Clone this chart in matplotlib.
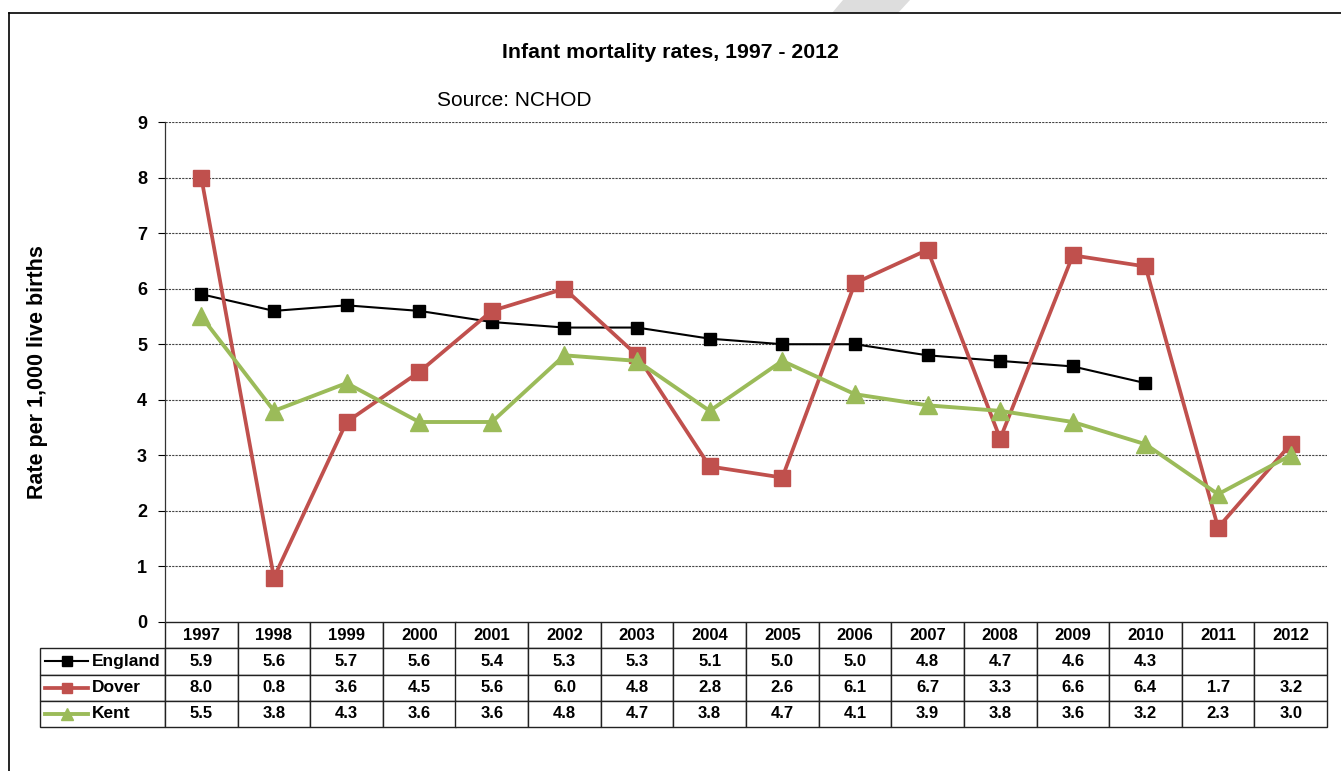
import matplotlib.pyplot as plt
from matplotlib.lines import Line2D
from matplotlib.patches import Polygon

plt.rcParams["font.family"] = ["Liberation Sans", "DejaVu Sans"]

# Infant mortality rate per 1,000 live births
years = ["1997", "1998", "1999", "2000", "2001", "2002", "2003", "2004",
         "2005", "2006", "2007", "2008", "2009", "2010", "2011", "2012"]
england = [5.9, 5.6, 5.7, 5.6, 5.4, 5.3, 5.3, 5.1, 5.0, 5.0, 4.8, 4.7, 4.6, 4.3, None, None]
dover = [8.0, 0.8, 3.6, 4.5, 5.6, 6.0, 4.8, 2.8, 2.6, 6.1, 6.7, 3.3, 6.6, 6.4, 1.7, 3.2]
kent = [5.5, 3.8, 4.3, 3.6, 3.6, 4.8, 4.7, 3.8, 4.7, 4.1, 3.9, 3.8, 3.6, 3.2, 2.3, 3.0]
series_names = ["England", "Dover", "Kent"]

W, H = 1341, 771
fig = plt.figure(figsize=(W / 100, H / 100), dpi=100)

# plot area in pixels
x0, x1, ytop, ybot = 165, 1327, 122, 622
ax = fig.add_axes([x0 / W, 1 - ybot / H, (x1 - x0) / W, (ybot - ytop) / H])

styles = {
    "England": dict(color="black", lw=1.5, marker="s", ms=8),
    "Dover": dict(color="#C0504D", lw=2.7, marker="s", ms=12),
    "Kent": dict(color="#9BBB59", lw=2.8, marker="^", ms=13),
}
xs = list(range(len(years)))
for name, vals in zip(series_names, [england, dover, kent]):
    st = styles[name]
    px = [x for x, v in zip(xs, vals) if v is not None]
    py = [v for v in vals if v is not None]
    ax.plot(px, py, color=st["color"], lw=st["lw"], marker=st["marker"],
            ms=st["ms"], mfc=st["color"], mec=st["color"], zorder=3)

ax.set_xlim(-0.5, len(years) - 0.5)
ax.set_ylim(0, 9)
ax.set_yticks(range(0, 10))
ax.tick_params(axis="y", length=5, width=0.8, labelsize=13, pad=8)
for lbl in ax.get_yticklabels():
    lbl.set_fontweight("bold")
ax.set_xticks([])
for y in range(1, 10):
    ax.axhline(y, color="#444444", lw=0.8, ls=(0, (2, 1)), zorder=1)
for side in ["top", "right", "bottom"]:
    ax.spines[side].set_visible(False)
ax.spines["left"].set_color("#333333")
ax.spines["left"].set_linewidth(0.9)

ax.set_ylabel("Rate per 1,000 live births", fontsize=15.5, fontweight="bold")
ax.yaxis.set_label_coords((48 - x0) / (x1 - x0), 0.5)

# data table under the plot
fmt = lambda v: "" if v is None else f"{v:.1f}"
cell_text = [[fmt(v) for v in row] for row in [england, dover, kent]]
label_w = (x0 - 40) / (x1 - x0)
tbl_h = 105 / (ybot - ytop)
tbl = ax.table(cellText=cell_text, colLabels=years,
               colWidths=[1 / len(years)] * len(years),
               cellLoc="center", bbox=[0, -tbl_h, 1, tbl_h])
cell_h = tbl[1, 0].get_height()
for r in range(1, 4):
    tbl.add_cell(r, -1, width=label_w, height=cell_h, text="")
tbl.auto_set_font_size(False)
for (r, c), cell in tbl.get_celld().items():
    cell.set_linewidth(1.0)
    cell.set_edgecolor("#222222")
    cell.get_text().set_fontsize(12)
    cell.get_text().set_fontweight("bold")

# legend keys inside the row label cells
row_h = tbl_h / 4
for i, name in enumerate(series_names):
    st = styles[name]
    yc = -row_h * (i + 1.5)
    ax.add_line(Line2D([(45 - x0) / (x1 - x0), (88 - x0) / (x1 - x0)], [yc, yc],
                       color=st["color"], lw=st["lw"], transform=ax.transAxes,
                       clip_on=False))
    ax.add_line(Line2D([(66.5 - x0) / (x1 - x0)], [yc], marker=st["marker"],
                       ms=7 if name != "Kent" else 8, color=st["color"],
                       transform=ax.transAxes, clip_on=False))
    ax.text((92 - x0) / (x1 - x0), yc, name, transform=ax.transAxes,
            fontsize=12.5, fontweight="bold", ha="left", va="center")

fig.text(670 / W, 1 - 52 / H, "Infant mortality rates, 1997 - 2012",
         fontsize=15.3, fontweight="bold", ha="center", va="center")
fig.text(437 / W, 1 - 100 / H, "Source: NCHOD", fontsize=15, ha="left", va="center")

# frame around the chart
fig.add_artist(Line2D([9 / W, 1.0], [1 - 13 / H] * 2, color="black", lw=1.2))
fig.add_artist(Line2D([9 / W] * 2, [0, 1 - 13 / H], color="black", lw=1.2))
fig.add_artist(Polygon([[843 / W, 1], [910 / W, 1], [898 / W, 1 - 13 / H], [832 / W, 1 - 13 / H]],
                       closed=True, facecolor="#DDDDDD", edgecolor="none"))

fig.savefig("out.png", dpi=100)
